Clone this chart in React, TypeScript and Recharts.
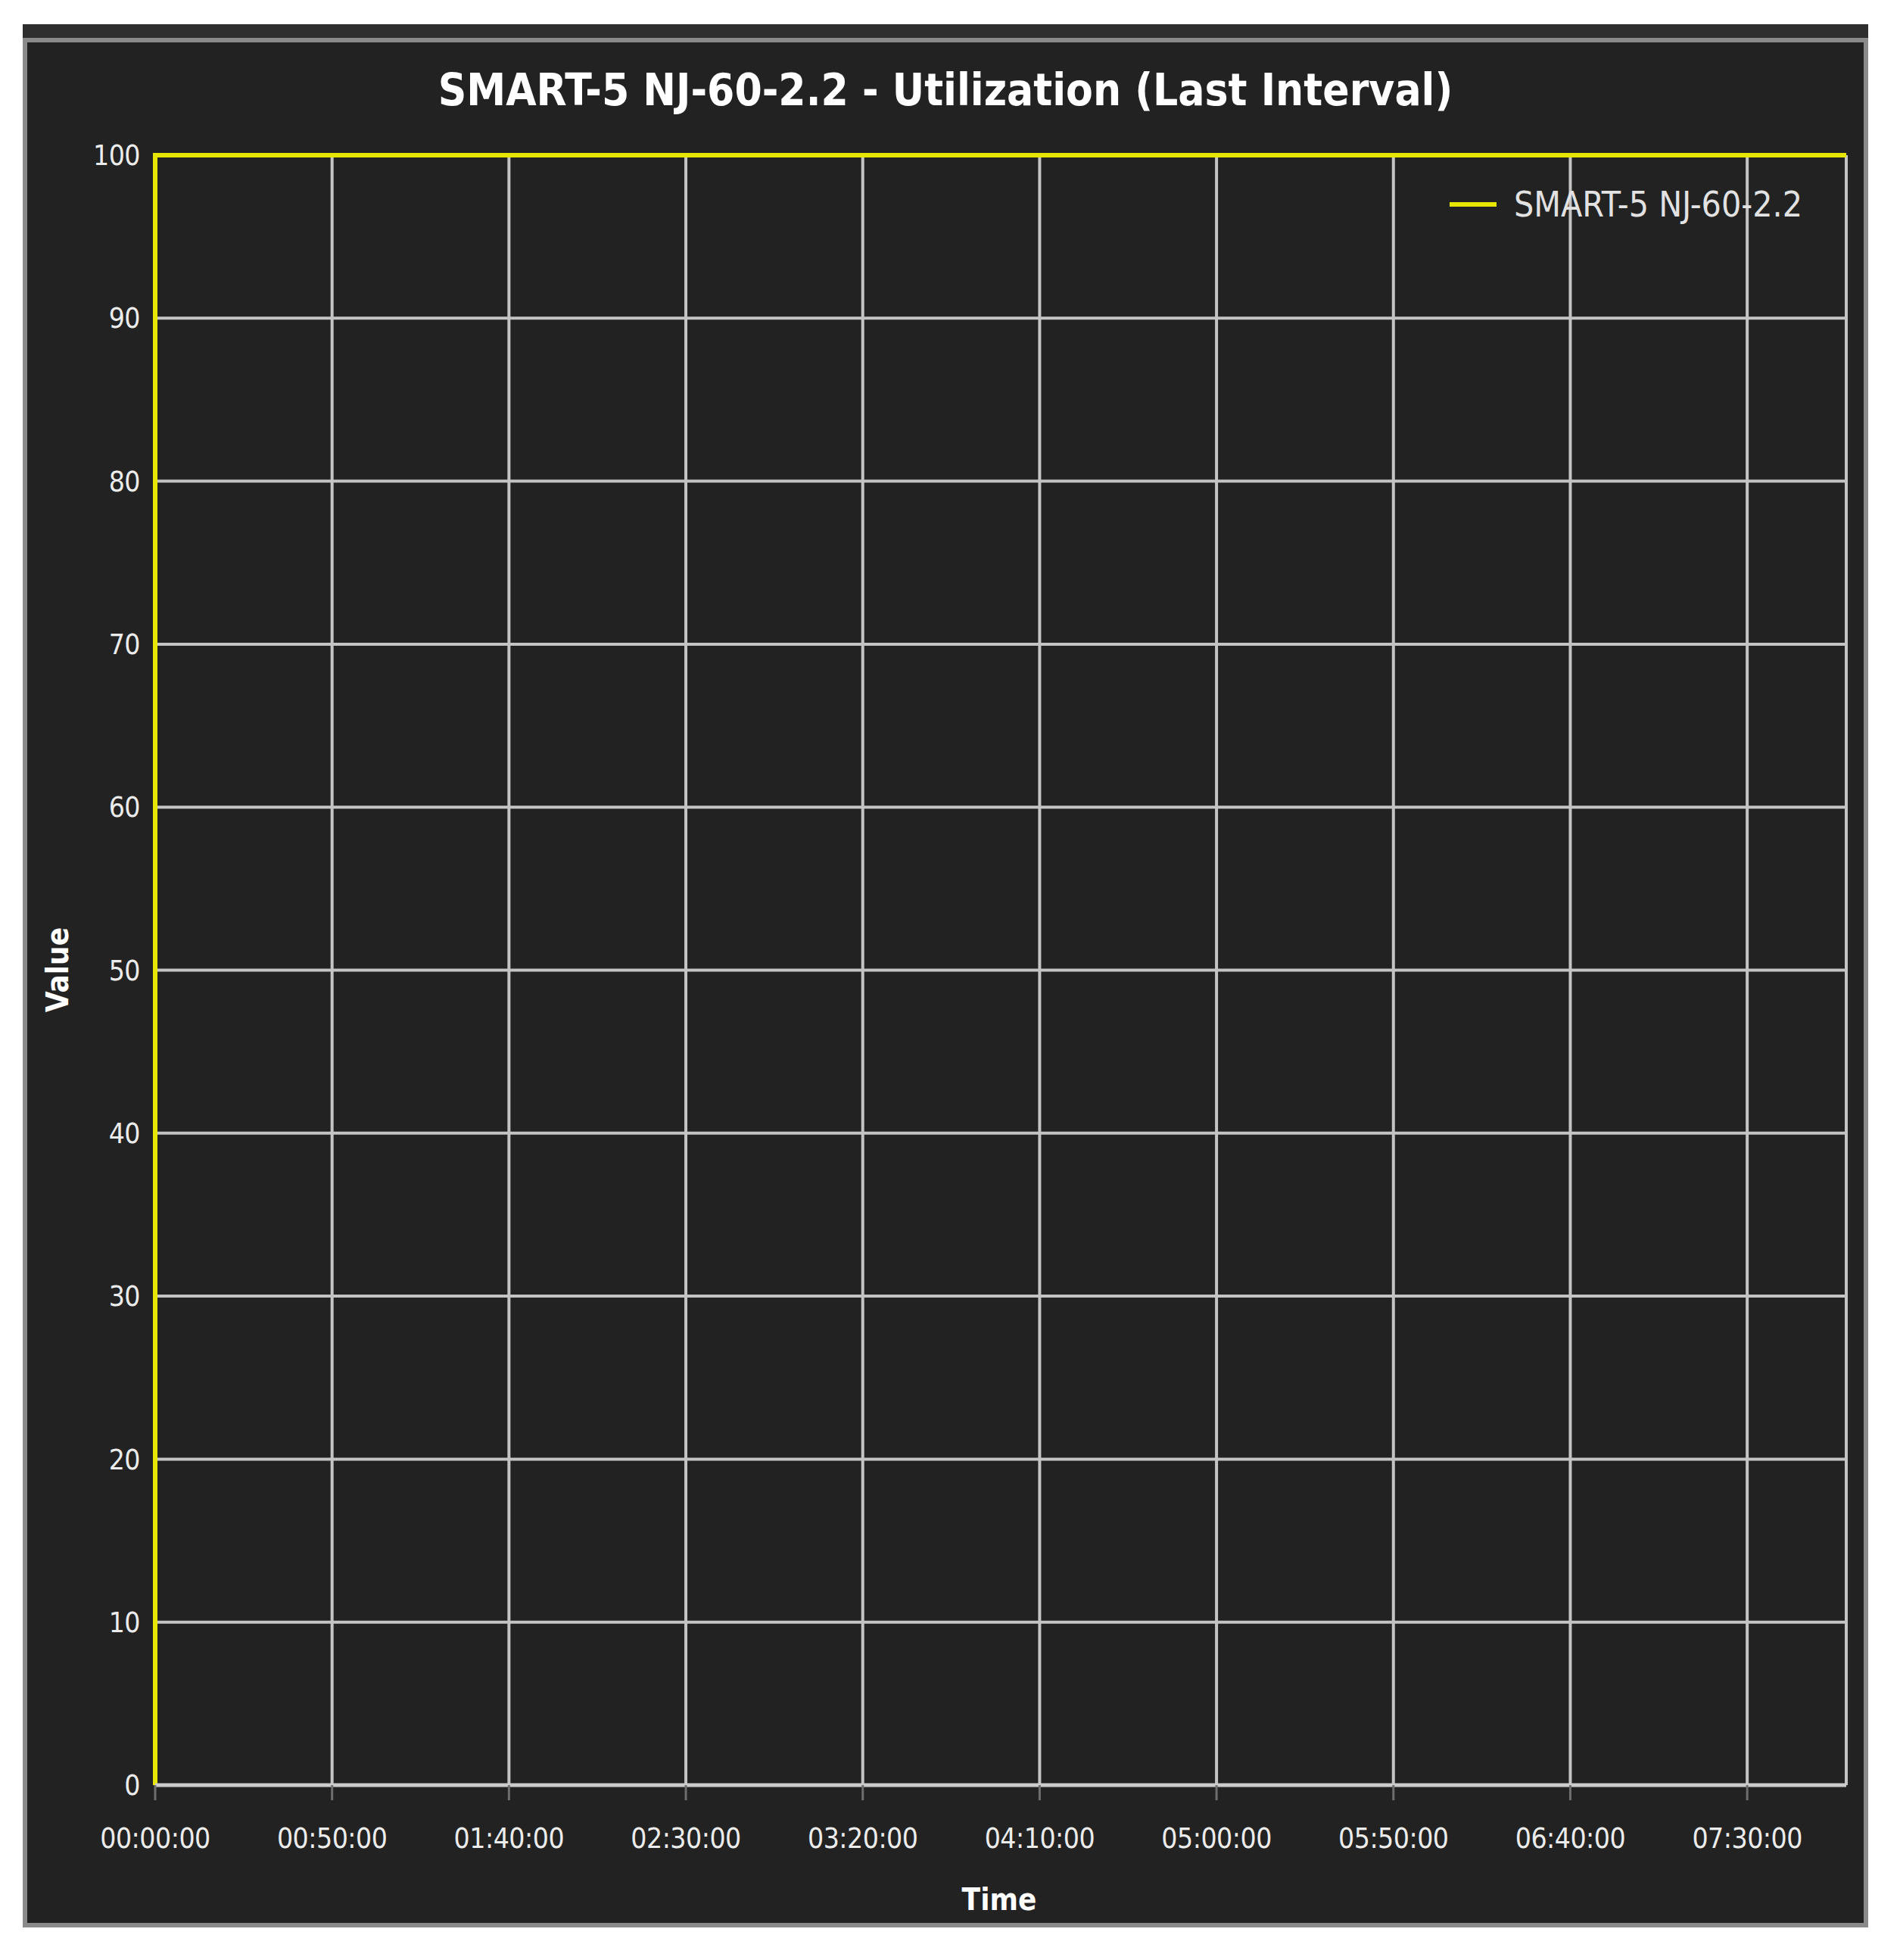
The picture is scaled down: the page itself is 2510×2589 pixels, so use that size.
import React from 'react';
import { LineChart, Line, XAxis, YAxis, CartesianGrid, Legend } from 'recharts';

// minutes since 00:00:00 and utilization %
const timeMinutes = [0, 0, 30, 60, 90, 120, 150, 180, 210, 240, 270, 300, 330, 360, 390, 420, 450, 478];
const utilization = [0, 100, 100, 100, 100, 100, 100, 100, 100, 100, 100, 100, 100, 100, 100, 100, 100, 100];

const xTicks = [0, 50, 100, 150, 200, 250, 300, 350, 400, 450];
const xTickLabels = ['00:00:00', '00:50:00', '01:40:00', '02:30:00', '03:20:00', '04:10:00', '05:00:00', '05:50:00', '06:40:00', '07:30:00'];
const yTicks = [0, 10, 20, 30, 40, 50, 60, 70, 80, 90, 100];

const seriesName = 'SMART-5 NJ-60-2.2';
const chartTitle = 'SMART-5 NJ-60-2.2 - Utilization (Last Interval)';

const data = timeMinutes.map((t, i) => ({ t, value: utilization[i] }));

const FONT = '"DejaVu Sans Condensed", "DejaVu Sans", sans-serif';
const YELLOW = '#e6e600';

const CustomLegend = () => (
  <div style={{ display: 'flex', alignItems: 'center', fontFamily: FONT, fontSize: 46, color: '#e2e2e2' }}>
    <span style={{ display: 'inline-block', width: 62, height: 6, background: YELLOW, marginRight: 23 }} />
    <span>{seriesName}</span>
  </div>
);

export default function App() {
  return (
    <div style={{ position: 'absolute', left: 0, top: 0, width: 2510, height: 2589, background: '#fff' }}>
      {/* frame */}
      <div style={{ position: 'absolute', left: 30, top: 32, width: 2438, height: 2514, background: '#2e2e2e' }}>
        <div
          style={{
            position: 'absolute',
            left: 0,
            top: 18,
            right: 0,
            bottom: 0,
            border: '6px solid #8a8a8a',
            background: '#222222',
          }}
        />
      </div>

      <div
        style={{
          position: 'absolute',
          left: 30,
          width: 2438,
          top: 90,
          textAlign: 'center',
          fontFamily: FONT,
          fontWeight: 'bold',
          fontSize: 58,
          lineHeight: '58px',
          color: '#ffffff',
        }}
      >
        {chartTitle}
      </div>

      <div
        style={{
          position: 'absolute',
          left: 1220,
          width: 200,
          top: 2489,
          textAlign: 'center',
          fontFamily: FONT,
          fontWeight: 'bold',
          fontSize: 40,
          lineHeight: '40px',
          color: '#ffffff',
        }}
      >
        Time
      </div>

      <div
        style={{
          position: 'absolute',
          left: 76 - 100,
          top: 1281 - 20,
          width: 200,
          height: 40,
          textAlign: 'center',
          fontFamily: FONT,
          fontWeight: 'bold',
          fontSize: 40,
          lineHeight: '40px',
          color: '#ffffff',
          transform: 'rotate(-90deg)',
        }}
      >
        Value
      </div>

      <div style={{ position: 'absolute', left: 0, top: 0 }}>
        <LineChart width={2510} height={2589} data={data} margin={{ top: 205, right: 71, left: 105, bottom: 131 }}>
          <CartesianGrid stroke="#c4c4c4" strokeWidth={4} />
          <XAxis
            dataKey="t"
            type="number"
            domain={[0, 478]}
            ticks={xTicks}
            tickFormatter={(v: number) => xTickLabels[xTicks.indexOf(v)] ?? ''}
            height={100}
            tick={{ fill: '#ececec', fontSize: 37, fontFamily: FONT, letterSpacing: -0.5 }}
            axisLine={{ stroke: '#cccccc', strokeWidth: 5 }}
            tickLine={{ stroke: '#6e6e6e', strokeWidth: 3 }}
            tickSize={20}
            tickMargin={37}
          />
          <YAxis
            domain={[0, 100]}
            ticks={yTicks}
            width={100}
            tick={{ fill: '#ececec', fontSize: 37, fontFamily: FONT, letterSpacing: -0.5 }}
            axisLine={false}
            tickLine={false}
            tickSize={6}
            tickMargin={14}
          />
          <Legend
            layout="horizontal"
            verticalAlign="middle"
            align="center"
            content={<CustomLegend />}
            wrapperStyle={{ position: 'absolute', left: 1915, top: 243, width: 560 }}
          />
          <Line
            type="linear"
            dataKey="value"
            name={seriesName}
            stroke={YELLOW}
            strokeWidth={6}
            dot={false}
            isAnimationActive={false}
          />
        </LineChart>
      </div>
    </div>
  );
}
